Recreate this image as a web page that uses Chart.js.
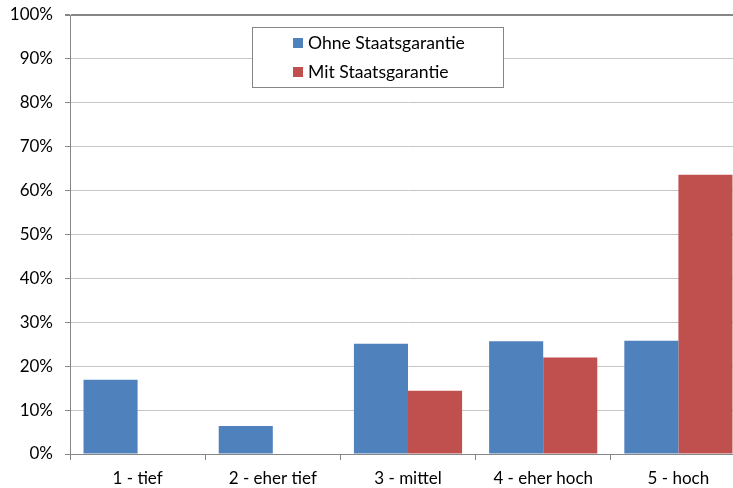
<!DOCTYPE html>
<html>
<head>
<meta charset="utf-8">
<script src="https://cdn.jsdelivr.net/npm/chart.js@4.4.0/dist/chart.umd.min.js"></script>
<style>
    html, body { margin:0; padding:0; background:#fff; overflow:hidden; }
    #wrap { width:760px; height:488px; }
</style>
</head>
<body>
<div id="wrap"><canvas id="bar-chart" width="760" height="488"></canvas></div>
<script>
const categories = ['1 - tief', '2 - eher tief', '3 - mittel', '4 - eher hoch', '5 - hoch'];
const ohne = [16.9, 6.4, 25.1, 25.7, 25.8];
const mit = [0, 0, 14.4, 22.0, 63.6];
const seriesNames = ['Ohne Staatsgarantie', 'Mit Staatsgarantie'];
const yTicks = [0, 10, 20, 30, 40, 50, 60, 70, 80, 90, 100];

const FONT = 'Lato, "Open Sans", sans-serif';

// legend in a box inside the plot, like the excel one
const boxLegend = {
    id: 'boxLegend',
    afterDraw(chart) {
        const ctx = chart.ctx;
        const x = 252.5, y = 27.5, w = 251, h = 60;
        ctx.save();
        ctx.fillStyle = '#fff';
        ctx.fillRect(x, y, w, h);
        ctx.strokeStyle = '#868686';
        ctx.lineWidth = 1;
        ctx.strokeRect(x, y, w, h);
        ctx.font = '17.6px ' + FONT;
        ctx.textBaseline = 'middle';
        ctx.textAlign = 'left';
        const rows = [43, 72];
        chart.data.datasets.forEach((ds, i) => {
            ctx.fillStyle = ds.backgroundColor;
            ctx.fillRect(293, rows[i] - 5, 10, 10);
            ctx.fillStyle = '#000';
            ctx.fillText(ds.label, 308, rows[i]);
        });
        ctx.restore();
    }
};

const data = {
    labels: categories,
    datasets: [
        {
            label: seriesNames[0],
            data: ohne,
            backgroundColor: '#4F81BD',
            borderWidth: 0,
            categoryPercentage: 0.8,
            barPercentage: 1.0
        },
        {
            label: seriesNames[1],
            data: mit,
            backgroundColor: '#C0504D',
            borderWidth: 0,
            categoryPercentage: 0.8,
            barPercentage: 1.0
        }
    ]
};

const config = {
    type: 'bar',
    data: data,
    options: {
        responsive: false,
        animation: false,
        layout: {
            padding: { top: 15, right: 14, left: 0, bottom: 0 }
        },
        plugins: {
            legend: { display: false },
            tooltip: { enabled: false }
        },
        scales: {
            x: {
                offset: true,
                grid: {
                    offset: true,
                    drawOnChartArea: false,
                    drawTicks: true,
                    tickLength: 6,
                    color: '#868686'
                },
                border: { color: '#868686', width: 1 },
                ticks: {
                    color: '#000',
                    font: { family: FONT, size: 17 },
                    padding: 8,
                    maxRotation: 0
                },
                afterFit(axis) {
                    axis.height = 34;
                    axis.paddingLeft = 0;
                    axis.paddingRight = 0;
                }
            },
            y: {
                min: 0,
                max: 100,
                afterBuildTicks(axis) {
                    axis.ticks = yTicks.map(v => ({ value: v }));
                },
                grid: {
                    color: (c) => c.tick && c.tick.value === 100 ? '#868686' : '#c6c6c6',
                    lineWidth: (c) => c.tick && c.tick.value === 100 ? 2 : 1,
                    tickLength: 5,
                    tickColor: '#868686'
                },
                border: { color: '#868686', width: 1 },
                ticks: {
                    color: '#000',
                    font: { family: FONT, size: 17 },
                    padding: 12,
                    callback: (v) => v + '%'
                },
                afterFit(axis) {
                    axis.width = 70;
                    axis.paddingTop = 0;
                    axis.paddingBottom = 0;
                }
            }
        }
    },
    plugins: [boxLegend]
};

new Chart(document.querySelector('#bar-chart'), config);
</script>
</body>
</html>
